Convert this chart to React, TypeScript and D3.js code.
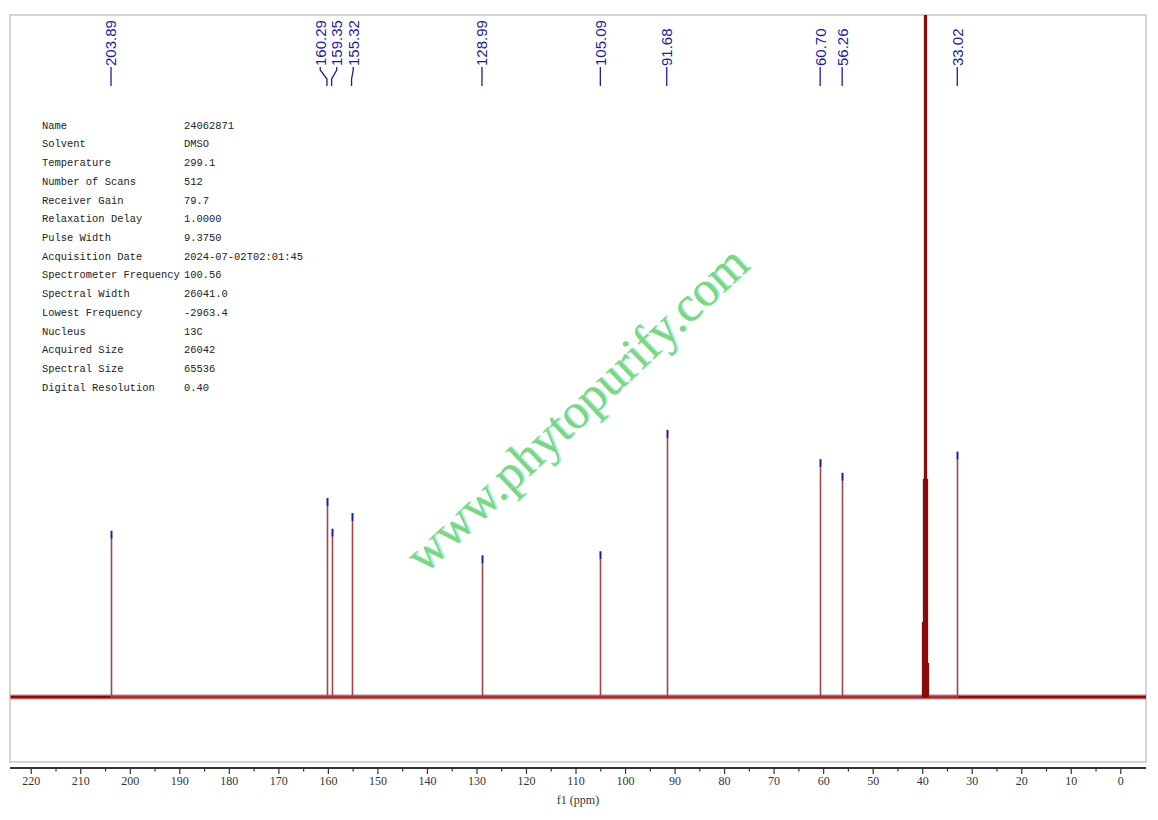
import React from "react";
import * as d3 from "d3";

// ---- data ----
const peakPpm = [203.89, 160.29, 159.35, 155.32, 128.99, 105.09, 91.68, 60.7, 56.26, 33.02];
const peakIntensity = [23.2, 28.0, 23.5, 25.8, 19.6, 20.2, 38.0, 33.7, 31.7, 34.8];
const peakLabels = ["203.89", "160.29", "159.35", "155.32", "128.99", "105.09", "91.68", "60.70", "56.26", "33.02"];

// DMSO-d6 solvent multiplet (unlabelled)
const solventPpm = [40.14, 39.93, 39.72, 39.52, 39.31, 39.1, 38.89];
const solventIntensity = [11, 32, 160, 170, 160, 32, 5];

const tickMajor = [220, 210, 200, 190, 180, 170, 160, 150, 140, 130, 120, 110, 100, 90, 80, 70, 60, 50, 40, 30, 20, 10, 0];
const tickMinor = [215, 205, 195, 185, 175, 165, 155, 145, 135, 125, 115, 105, 95, 85, 75, 65, 55, 45, 35, 25, 15, 5];

const paramNames = [
  "Name", "Solvent", "Temperature", "Number of Scans", "Receiver Gain", "Relaxation Delay",
  "Pulse Width", "Acquisition Date", "Spectrometer Frequency", "Spectral Width",
  "Lowest Frequency", "Nucleus", "Acquired Size", "Spectral Size", "Digital Resolution",
];
const paramValues = [
  "24062871", "DMSO", "299.1", "512", "79.7", "1.0000", "9.3750", "2024-07-02T02:01:45",
  "100.56", "26041.0", "-2963.4", "13C", "26042", "65536", "0.40",
];

const watermark = "www.phytopurify.com";

// ---- layout ----
const W = 1158;
const H = 820;
const frame = { left: 10, top: 15, right: 1146, bottom: 762 };

const x = d3.scaleLinear().domain([224.29, -5.09]).range([frame.left, frame.right]);
const y = d3.scaleLinear().domain([0, 100]).range([697, 15]);

const BLUE = "#1c1c9c";
const RED = "#8b0a0a";

function spreadLabels(xs: number[], gap: number): number[] {
  // cluster-based relaxation: overlapping labels are centred on their peaks' mean
  const clusters = xs.map((v, i) => ({ idx: [i], mean: v }));
  let changed = true;
  while (changed) {
    changed = false;
    for (let i = 0; i < clusters.length - 1; i++) {
      const a = clusters[i];
      const b = clusters[i + 1];
      const aEnd = a.mean + ((a.idx.length - 1) * gap) / 2;
      const bStart = b.mean - ((b.idx.length - 1) * gap) / 2;
      if (bStart - aEnd < gap) {
        const idx = [...a.idx, ...b.idx];
        const mean = d3.mean(idx, (k) => xs[k]) as number;
        clusters.splice(i, 2, { idx, mean });
        changed = true;
        break;
      }
    }
  }
  const out = new Array(xs.length).fill(0);
  clusters.forEach((c) => {
    c.idx.forEach((k, j) => {
      out[k] = c.mean + (j - (c.idx.length - 1) / 2) * gap;
    });
  });
  return out;
}

export default function App() {
  const peakX = peakPpm.map((p) => x(p));
  const labelX = spreadLabels(peakX, 16.5);

  const line = d3
    .line<[number, number]>()
    .x((d) => Math.round(x(d[0])) + 0.5)
    .y((d) => y(d[1]));

  const peakPts: [number, number][] = [];
  peakPpm.forEach((p, i) => {
    peakPts.push([p, 0], [p, peakIntensity[i]], [p, 0]);
  });
  const solventPts: [number, number][] = [];
  solventPpm.forEach((p, i) => {
    solventPts.push([p, 0], [p, solventIntensity[i]], [p, 0]);
  });
  const peakPath = line(peakPts) || "";
  const solventPath = line(solventPts) || "";
  const basePath = line([[x.domain()[0], 0], [x.domain()[1], 0]]) || "";

  const axisY = 768;
  const labelBottom = 66;

  const wmAngle = -43.3;
  const wmCx = 588;
  const wmCy = 421;

  return (
    <svg
      width={W}
      height={H}
      style={{ position: "absolute", left: 0, top: 0, background: "#fff" }}
    >
      <defs>
        <clipPath id="plotclip">
          <rect x={frame.left} y={frame.top} width={frame.right - frame.left} height={frame.bottom - frame.top} />
        </clipPath>
      </defs>
      <rect
        x={frame.left}
        y={frame.top}
        width={frame.right - frame.left}
        height={frame.bottom - frame.top}
        fill="#fff"
        stroke="#c8c8c8"
        strokeWidth={1.5}
      />

      {/* parameter table */}
      <g fontFamily="'Liberation Mono', 'DejaVu Sans Mono', monospace" fontSize={10.45} fill="#222">
        {paramNames.map((n, i) => (
          <g key={n}>
            <text x={42} y={125 + i * 18.72} dy="0.35em">{n}</text>
            <text x={184} y={125 + i * 18.72} dy="0.35em">{paramValues[i]}</text>
          </g>
        ))}
      </g>

      {/* watermark */}
      <g
        transform={`translate(${wmCx},${wmCy}) rotate(${wmAngle})`}
        fontFamily="'Liberation Serif', 'DejaVu Serif', serif"
        fontSize={50}
        textAnchor="middle"
      >
        <text x={1.5} y={1} fill="#a8f0f0">{watermark}</text>
        <text x={0} y={0} fill="#80d680">{watermark}</text>
      </g>

      {/* spectrum */}
      <g clipPath="url(#plotclip)">
        <path d={basePath} fill="none" stroke={RED} strokeWidth={6} strokeOpacity={0.25} />
        <path d={basePath} fill="none" stroke={RED} strokeWidth={3} />
        <path d={peakPath} fill="none" stroke="#a34545" strokeWidth={1.6} />
        <path d={solventPath} fill="none" stroke={RED} strokeWidth={1.3} />
      </g>

      {/* peak top markers */}
      {peakPpm.map((p, i) => (
        <line
          key={"m" + i}
          x1={Math.round(x(p)) + 0.5}
          x2={Math.round(x(p)) + 0.5}
          y1={y(peakIntensity[i]) - 8}
          y2={y(peakIntensity[i])}
          stroke={BLUE}
          strokeWidth={2}
        />
      ))}

      {/* peak labels */}
      <g fontFamily="'Liberation Sans', Arial, sans-serif" fontSize={15} fill={BLUE}>
        {peakPpm.map((p, i) => {
          const lx = labelX[i];
          const px = peakX[i];
          const d =
            Math.abs(lx - px) < 0.5
              ? `M${px},${labelBottom + 1}L${px},86`
              : `M${lx},${labelBottom + 1}L${lx},70L${px},79L${px},86`;
          return (
            <g key={"l" + i}>
              <path d={d} fill="none" stroke={BLUE} strokeWidth={1.3} />
              <text
                transform={`translate(${lx},${labelBottom}) rotate(-90)`}
                dy="0.36em"
                textAnchor="start"
              >
                {peakLabels[i]}
              </text>
            </g>
          );
        })}
      </g>

      {/* x axis */}
      <g>
        <line x1={frame.left} x2={frame.right} y1={axisY} y2={axisY} stroke="#333" strokeWidth={2} />
        {tickMajor.map((t) => (
          <line key={"M" + t} x1={x(t)} x2={x(t)} y1={axisY} y2={axisY + 6} stroke="#333" strokeWidth={1.2} />
        ))}
        {tickMinor.map((t) => (
          <line key={"m" + t} x1={x(t)} x2={x(t)} y1={axisY} y2={axisY + 3.5} stroke="#333" strokeWidth={1.2} />
        ))}
        <g fontFamily="'Liberation Serif', 'DejaVu Serif', serif" fontSize={12} fill="#333" textAnchor="middle">
          {tickMajor.map((t) => (
            <text key={"t" + t} x={x(t)} y={781} dy="0.35em">{t}</text>
          ))}
          <text x={(frame.left + frame.right) / 2} y={800} dy="0.35em">f1 (ppm)</text>
        </g>
      </g>
    </svg>
  );
}
